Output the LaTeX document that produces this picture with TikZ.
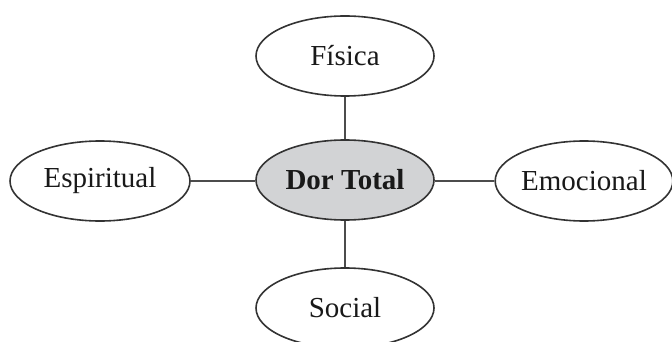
\documentclass[tikz,border=0pt]{standalone}
\usepackage{fontspec}
\setmainfont{Liberation Serif}
\usetikzlibrary{shapes.geometric}
\definecolor{hubgray}{HTML}{D2D3D5}
\definecolor{inkgray}{HTML}{333333}
\begin{document}
\begin{tikzpicture}[x=1pt,y=1pt,
  bubble/.style={ellipse, draw=inkgray, line width=1.6pt, fill=white, inner sep=0pt,
    minimum width=178pt, minimum height=80pt, font=\fontsize{29}{34}\selectfont, text=black!90},
  hub/.style={bubble, fill=hubgray, font=\fontsize{29}{34}\selectfont\bfseries},
  link/.style={draw=black!70, line width=1.8pt}]
\useasboundingbox (0,0) rectangle (672,-342);
\node[hub] (dor) at (345,-180) {Dor Total};
\node[bubble] (fis) at (345,-56) {Física};
\node[bubble, minimum width=180pt] (esp) at (100,-181) {Espiritual};
\node[bubble, minimum width=172pt] (emo) at (584,-181) {Emocional};
\node[bubble] (soc) at (345,-308) {Social};
\draw[link] (dor) -- (fis);
\draw[link] (dor) -- (soc);
\draw[link] (dor.west |- esp.east) -- (esp.east);
\draw[link] (dor.east |- emo.west) -- (emo.west);
\end{tikzpicture}
\end{document}
